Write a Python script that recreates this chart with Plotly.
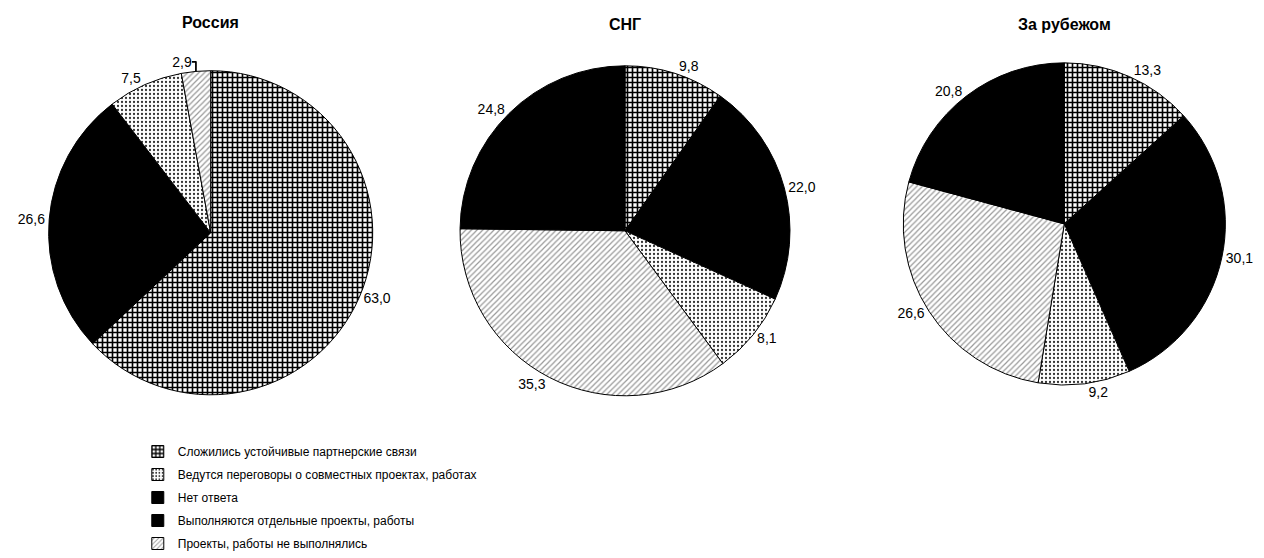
import plotly.graph_objects as go

# ---- data ----
categories = [
    "Сложились устойчивые партнерские связи",
    "Ведутся переговоры о совместных проектах, работах",
    "Нет ответа",
    "Выполняются отдельные проекты, работы",
    "Проекты, работы не выполнялись",
]
titles = ["Россия", "СНГ", "За рубежом"]

# slice order: clockwise from 12 o'clock
russia_labels = [categories[0], categories[3], categories[1], categories[4]]
russia_values = [63.0, 26.6, 7.5, 2.9]

cis_labels = [categories[0], categories[3], categories[1], categories[4], categories[2]]
cis_values = [9.8, 22.0, 8.1, 35.3, 24.8]

abroad_labels = [categories[0], categories[3], categories[1], categories[4], categories[2]]
abroad_values = [13.3, 30.1, 9.2, 26.6, 20.8]

# ---- styles ----
style = {
    categories[0]: dict(color="white", shape="+", fg="black", size=5, solidity=0.55),
    categories[1]: dict(color="white", shape=".", fg="#333333", size=4, solidity=0.25),
    categories[2]: dict(color="black", shape="", fg="black", size=5, solidity=0.3),
    categories[3]: dict(color="black", shape="", fg="black", size=5, solidity=0.3),
    categories[4]: dict(color="white", shape="/", fg="#999999", size=4, solidity=0.3),
}

FONT = "Liberation Sans Narrow, Arial Narrow, Liberation Sans, Arial, sans-serif"
W, H = 1264, 558

fig = go.Figure()

pies = [
    (russia_labels, russia_values, (211, 237, 165)),
    (cis_labels, cis_values, (626, 235, 168)),
    (abroad_labels, abroad_values, (1066, 228, 164)),
]

for labels, values, (cx, cy, r) in pies:
    dom_x = [(cx - r) / W, (cx + r) / W]
    dom_y = [(H - cy - r) / H, (H - cy + r) / H]
    fig.add_trace(go.Pie(
        labels=labels,
        values=values,
        text=[f"{v:.1f}".replace(".", ",") for v in values],
        textinfo="text",
        textposition="outside",
        outsidetextfont=dict(family=FONT, size=14, color="black"),
        sort=False,
        direction="clockwise",
        rotation=0,
        domain=dict(x=dom_x, y=dom_y),
        showlegend=False,
        hoverinfo="label+text",
        marker=dict(
            colors=[style[l]["color"] for l in labels],
            line=dict(color="black", width=1),
            pattern=dict(
                shape=[style[l]["shape"] for l in labels],
                fgcolor=[style[l]["fg"] for l in labels],
                size=[style[l]["size"] for l in labels],
                solidity=[style[l]["solidity"] for l in labels],
                fillmode="replace",
            ),
        ),
    ))

# legend entries (legend-only bar traces)
for i, cat in enumerate(categories):
    s = style[cat]
    fig.add_trace(go.Bar(
        x=[None], y=[None], name=cat, legendgroup=f"g{i}",
        marker=dict(
            color=s["color"],
            line=dict(color="black", width=1),
            pattern=dict(shape=s["shape"], fgcolor=s["fg"], size=s["size"],
                         solidity=s["solidity"], fillmode="replace"),
        ),
        showlegend=True,
    ))

title_pos = [(211, 23), (626, 25), (1066, 25)]
for t, (tx, ty) in zip(titles, title_pos):
    fig.add_annotation(
        x=tx / W, y=1 - ty / H, xref="paper", yref="paper",
        text=f"<b>{t}</b>", showarrow=False,
        font=dict(family=FONT, size=16, color="black"),
        xanchor="center", yanchor="middle",
    )

fig.update_layout(
    width=W, height=H,
    margin=dict(l=0, r=0, t=0, b=0),
    paper_bgcolor="white",
    plot_bgcolor="white",
    xaxis=dict(visible=False),
    yaxis=dict(visible=False),
    font=dict(family=FONT, color="black"),
    legend=dict(
        x=138 / W, y=1 - 445 / H, xanchor="left", yanchor="top",
        font=dict(family=FONT, size=12, color="black"),
        tracegroupgap=4,
        bgcolor="rgba(0,0,0,0)",
    ),
)

fig.write_html(
    "out.html",
    config={"displayModeBar": False},
    post_script="document.body.style.margin='0px';",
)
